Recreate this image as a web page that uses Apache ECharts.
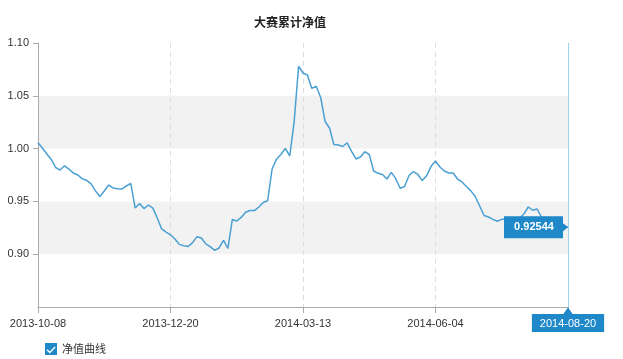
<!DOCTYPE html>
<html>
<head>
<meta charset="utf-8">
<script src="https://cdn.jsdelivr.net/npm/echarts@6/dist/echarts.min.js"></script>
<style>
html,body{margin:0;padding:0;background:#fff;}
#c{width:623px;height:359px;}
</style>
</head>
<body>
<div id="c"></div>
<script>
const titleText = '大赛累计净值';
const seriesName = '净值曲线';
const tickLabels = ['2013-10-08', '2013-12-20', '2014-03-13', '2014-06-04', '2014-08-20'];
const yTicks = [0.85, 0.90, 0.95, 1.00, 1.05, 1.10];
const step = 30;
const values = [
  1.0056, 1.0006, 0.9949, 0.9897, 0.9821, 0.9797, 0.9837, 0.9805, 0.9769, 0.9750,
  0.9715, 0.9700, 0.9668, 0.9600, 0.9546, 0.9598, 0.9655, 0.9627, 0.9619, 0.9617,
  0.9646, 0.9671, 0.9438, 0.9480, 0.9432, 0.9466, 0.9436, 0.9343, 0.9239, 0.9210,
  0.9184, 0.9144, 0.9093, 0.9080, 0.9073, 0.9110, 0.9166, 0.9153, 0.9098, 0.9072,
  0.9036, 0.9059, 0.9130, 0.9056, 0.9329, 0.9314, 0.9348, 0.9397, 0.9414, 0.9413,
  0.9447, 0.9490, 0.9506, 0.9807, 0.9900, 0.9944, 1.0002, 0.9930, 1.0255, 1.0780,
  1.0716, 1.0697, 1.0570, 1.0590, 1.0484, 1.0257, 1.0195, 1.0038, 1.0034, 1.0020,
  1.0055, 0.9973, 0.9902, 0.9920, 0.9970, 0.9945, 0.9788, 0.9766, 0.9755, 0.9712,
  0.9775, 0.9715, 0.9624, 0.9641, 0.9745, 0.9783, 0.9755, 0.9697, 0.9743, 0.9832,
  0.9883, 0.9826, 0.9788, 0.9769, 0.9769, 0.9712, 0.9684, 0.9641, 0.9600, 0.9546,
  0.9456, 0.9367, 0.9352, 0.9330, 0.9312, 0.9330, 0.9330, 0.9320, 0.9335, 0.9340,
  0.9380, 0.9447, 0.9416, 0.9428, 0.9352, 0.9324, 0.9305, 0.9286, 0.9295, 0.9267,
  0.92544
];
const categories = values.map((v, i) => (i % step === 0 ? tickLabels[i / step] : ''));
const lastIdx = values.length - 1;
const lastVal = values[lastIdx];

const blue = '#1f88c9';
const lineBlue = '#4a9fd3';
const font = "'Liberation Sans', Arial, sans-serif";

const chart = echarts.init(document.getElementById('c'), null, {renderer: 'canvas'});
chart.setOption({
  animation: false,
  backgroundColor: '#fff',
  title: {
    text: titleText,
    left: 249,
    top: 11,
    textStyle: {fontSize: 12, fontWeight: 'bold', color: '#222', fontFamily: "'Noto Sans CJK SC', sans-serif"}
  },
  legend: {
    left: 40,
    top: 338,
    itemWidth: 12,
    itemHeight: 12,
    itemGap: 10,
    textStyle: {fontSize: 11, color: '#333', fontFamily: "'Noto Sans CJK SC', sans-serif"},
    data: [{
      name: seriesName,
      icon: 'path://M0,0H12V12H0Z M1.5,7.2 L4.8,10.4 L10.6,4.4 L9.6,3.4 L4.8,8.6 L2.5,6.2Z',
      itemStyle: {color: blue}
    }]
  },
  grid: {left: 38, right: 55, top: 43, bottom: 52, containLabel: false},
  xAxis: {
    type: 'category',
    data: categories,
    boundaryGap: false,
    axisLine: {lineStyle: {color: '#aaa', width: 1}},
    axisTick: {show: true, interval: step - 1, length: 6, lineStyle: {color: '#aaa'}},
    splitLine: {show: true, interval: step - 1, lineStyle: {color: '#ddd', type: [5, 4], width: 1}},
    axisLabel: {
      interval: step - 1,
      margin: 7,
      fontSize: 11,
      color: '#333',
      fontFamily: font,
      formatter: (val, idx) => (idx === lastIdx ? '{hl|' + val + '}' : '{n|' + val + '}'),
      rich: {
        n: {fontSize: 11, color: '#333', fontFamily: font, padding: [4, 8, 3, 8]},
        hl: {fontSize: 11, color: '#fff', fontFamily: font, backgroundColor: blue, padding: [4, 8, 3, 8]}
      }
    }
  },
  yAxis: {
    type: 'value',
    min: yTicks[0],
    max: yTicks[yTicks.length - 1],
    interval: 0.05,
    axisLine: {show: true, lineStyle: {color: '#aaa', width: 1}},
    axisTick: {show: true, length: 5, lineStyle: {color: '#aaa'}},
    splitLine: {show: false},
    splitArea: {show: true, areaStyle: {color: ['rgba(255,255,255,0)', '#f2f2f2']}},
    axisLabel: {
      showMinLabel: false,
      margin: 9,
      fontSize: 11,
      color: '#333',
      fontFamily: font,
      formatter: (v) => v.toFixed(2)
    }
  },
  series: [{
    name: seriesName,
    type: 'line',
    data: values,
    showSymbol: false,
    symbol: 'none',
    lineStyle: {color: lineBlue, width: 1.5},
    itemStyle: {color: lineBlue},
    markLine: {
      silent: true,
      symbol: ['none', 'none'],
      label: {show: false},
      lineStyle: {color: '#9fd0ea', type: 'solid', width: 1},
      data: [{xAxis: lastIdx}]
    },
    markPoint: {
      silent: true,
      data: [
        {
          coord: [lastIdx, lastVal],
          value: lastVal,
          symbol: 'path://M0,0H59V7L64,11L59,15V22H0Z',
          symbolKeepAspect: false,
          symbolSize: [64, 22],
          symbolOffset: [-32, 0],
          itemStyle: {color: blue},
          label: {
            show: true,
            position: 'inside',
            offset: [-2, 0],
            color: '#fff',
            fontSize: 11,
            fontWeight: 'bold',
            fontFamily: font,
            formatter: () => String(lastVal)
          }
        },
        {
          coord: [lastIdx, yTicks[0]],
          symbol: 'triangle',
          symbolSize: [10, 7],
          symbolOffset: [0, 4],
          itemStyle: {color: blue},
          label: {show: false}
        }
      ]
    }
  }]
});
</script>
</body>
</html>
